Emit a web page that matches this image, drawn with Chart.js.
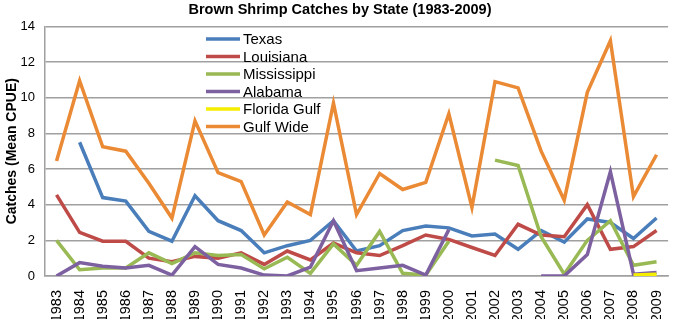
<!DOCTYPE html>
<html>
<head>
<meta charset="utf-8">
<script src="https://cdn.jsdelivr.net/npm/chart.js@4.4.1/dist/chart.umd.min.js"></script>
<style>
  html, body { margin: 0; padding: 0; background: #fff; }
  #wrap { width: 680px; height: 319px; }
</style>
</head>
<body>
<div id="wrap"><canvas id="shrimpChart"></canvas></div>
<script>
// data
const years = ['1983', '1984', '1985', '1986', '1987', '1988', '1989', '1990', '1991', '1992', '1993', '1994', '1995',
  '1996', '1997', '1998', '1999', '2000', '2001', '2002', '2003', '2004', '2005', '2006', '2007', '2008', '2009'];

const texas = [null, 7.5, 4.4, 4.2, 2.5, 1.95, 4.5, 3.1, 2.55, 1.3, 1.7, 2.0, 3.1, 1.4, 1.7, 2.55, 2.8, 2.7, 2.25, 2.35, 1.5, 2.55, 1.9, 3.2, 3.0, 2.1, 3.25];
const louisiana = [4.55, 2.45, 1.95, 1.95, 1.0, 0.8, 1.1, 1.0, 1.3, 0.65, 1.4, 0.9, 1.85, 1.3, 1.15, 1.7, 2.3, 2.05, 1.6, 1.15, 2.9, 2.3, 2.2, 4.0, 1.5, 1.65, 2.55];
const mississippi = [2.0, 0.35, 0.45, 0.45, 1.3, 0.7, 1.3, 1.15, 1.2, 0.4, 1.05, 0.15, 1.8, 0.6, 2.5, 0.15, 0.05, 1.95, null, 6.5, 6.2, 2.2, 0.1, 2.0, 3.1, 0.6, 0.8];
const alabama = [0, 0.75, 0.55, 0.45, 0.6, 0.05, 1.65, 0.65, 0.45, 0.05, 0, 0.5, 3.1, 0.3, 0.45, 0.6, 0.05, 2.6, null, null, null, 0, 0, 1.2, 5.85, 0.1, 0.2];
const floridaGulf = [null, null, null, null, null, null, null, null, null, null, null, null, null,
  null, null, null, null, null, null, null, null, null, null, null, null, 0.05, 0.1];
const gulfWide = [6.45, 10.95, 7.25, 7.0, 5.2, 3.25, 8.7, 5.8, 5.3, 2.3, 4.15, 3.45, 9.7, 3.45, 5.75, 4.85, 5.25, 9.1, 3.85, 10.9, 10.55, 7.0, 4.25, 10.3, 13.2, 4.45, 6.8];

const yTicks = [0, 2, 4, 6, 8, 10, 12, 14];

// legend drawn inside the plot, like the original
const innerLegend = {
  id: 'innerLegend',
  afterDraw(chart) {
    const ctx = chart.ctx;
    ctx.save();
    ctx.font = '15px "Liberation Sans", Arial, sans-serif';
    ctx.textBaseline = 'middle';
    ctx.textAlign = 'left';
    chart.data.datasets.forEach((ds, i) => {
      const y = 39 + i * 17.5;
      ctx.strokeStyle = ds.borderColor;
      ctx.lineWidth = 3.5;
      ctx.beginPath();
      ctx.moveTo(206, y);
      ctx.lineTo(240, y);
      ctx.stroke();
      ctx.fillStyle = '#000';
      ctx.fillText(ds.label, 243, y + 1);
    });
    ctx.restore();
  }
};

function line(label, data, color, order) {
  return {
    label: label,
    data: data,
    borderColor: color,
    backgroundColor: color,
    borderWidth: 3.5,
    pointRadius: 0,
    tension: 0,
    spanGaps: false,
    order: order
  };
}

const ctx = document.getElementById('shrimpChart');

new Chart(ctx, {
  type: 'line',
  data: {
    labels: years,
    datasets: [
      line('Texas', texas, '#4A7EBB', 6),
      line('Louisiana', louisiana, '#BE4B48', 5),
      line('Mississippi', mississippi, '#98B954', 4),
      line('Alabama', alabama, '#7D60A0', 3),
      line('Florida Gulf', floridaGulf, '#F5EE00', 2),
      line('Gulf Wide', gulfWide, '#EB8A35', 1)
    ]
  },
  options: {
    responsive: true,
    maintainAspectRatio: false,
    animation: false,
    layout: {
      padding: { top: 0, right: 3, bottom: 0, left: 3 }
    },
    scales: {
      x: {
        offset: true,
        grid: { display: false },
        border: { display: true, color: '#A0A0A0', width: 1.5 },
        ticks: {
          color: '#000',
          minRotation: 90,
          maxRotation: 90,
          autoSkip: false,
          padding: 6,
          font: { family: '"Liberation Sans", Arial, sans-serif', size: 14.5 }
        },
        afterFit: scale => { scale.height = 43; }
      },
      y: {
        min: 0,
        max: 14,
        afterBuildTicks: scale => { scale.ticks = yTicks.map(v => ({ value: v })); },
        grid: { color: '#A0A0A0', lineWidth: 1.5, drawTicks: false },
        border: { display: true, color: '#A0A0A0', width: 1.5 },
        ticks: {
          color: '#000',
          padding: 10,
          font: { family: '"Liberation Sans", Arial, sans-serif', size: 13 }
        },
        title: {
          display: true,
          text: 'Catches (Mean CPUE)',
          color: '#000',
          padding: { top: 1, bottom: 0 },
          font: { family: '"Liberation Sans", Arial, sans-serif', size: 14, weight: 'bold' }
        },
        afterFit: scale => { scale.width = 42; }
      }
    },
    plugins: {
      legend: { display: false },
      tooltip: { enabled: false },
      title: {
        display: true,
        text: 'Brown Shrimp Catches by State (1983-2009)',
        color: '#000',
        padding: { top: 1, bottom: 8 },
        font: { family: '"Liberation Sans", Arial, sans-serif', size: 14.5, weight: 'bold' }
      }
    }
  },
  plugins: [innerLegend]
});
</script>
</body>
</html>
